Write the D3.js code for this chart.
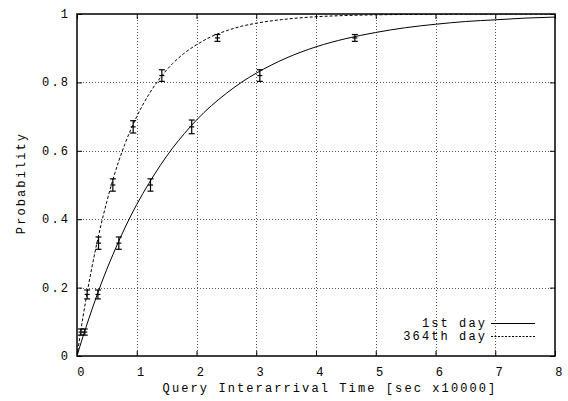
<!DOCTYPE html>
<html>
<head>
<meta charset="utf-8">
<script src="https://cdn.jsdelivr.net/npm/d3@7"></script>
<style>
  html, body { margin: 0; padding: 0; background: #fff; }
  svg text { font-family: "Liberation Mono", "DejaVu Sans Mono", monospace; font-size: 12px; fill: #000; letter-spacing: 2.1px; }
</style>
</head>
<body>
<svg id="chart" width="568" height="401"></svg>
<script>
// Measured interarrival-time CDF points (x in units of 10000 sec)
const probLevels = [0.07, 0.18, 0.33, 0.50, 0.67, 0.82, 0.93];
const day1X = [0.13, 0.35, 0.70, 1.23, 1.92, 3.06, 4.65];
const day1Err = [0.009, 0.013, 0.018, 0.018, 0.020, 0.017, 0.010];
const day364X = [0.067, 0.17, 0.36, 0.60, 0.94, 1.42, 2.35];
const day364Err = [0.009, 0.013, 0.018, 0.018, 0.018, 0.017, 0.010];

// Fitted curves sampled along x
const curveX = [0, 0.1, 0.2, 0.3, 0.4, 0.5, 0.6, 0.8, 1.0, 1.2, 1.4, 1.6, 1.8, 2.0, 2.25, 2.5, 2.75, 3.0, 3.5, 4.0, 4.5, 5.0, 5.5, 6.0, 6.5, 7.0, 7.5, 8.0];
const day1Fit = [0, 0.057, 0.110, 0.161, 0.209, 0.254, 0.296, 0.374, 0.443, 0.504, 0.559, 0.608, 0.651, 0.690, 0.732, 0.768, 0.800, 0.827, 0.871, 0.904, 0.928, 0.946, 0.960, 0.970, 0.978, 0.983, 0.988, 0.991];
const day364Fit = [0, 0.114, 0.214, 0.303, 0.382, 0.452, 0.515, 0.619, 0.700, 0.764, 0.815, 0.855, 0.886, 0.910, 0.934, 0.951, 0.964, 0.973, 0.985, 0.992, 0.9956, 0.9976, 0.9987, 0.9993, 0.9996, 0.9998, 0.9999, 1.0];

const xTicks = [0, 1, 2, 3, 4, 5, 6, 7, 8];
const yTicks = [0, 0.2, 0.4, 0.6, 0.8, 1];
const yTickLabels = ["0", "0.2", "0.4", "0.6", "0.8", "1"];
const seriesNames = ["1st day", "364th day"];

const svg = d3.select("#chart");
const plotL = 77, plotR = 555, plotT = 14, plotB = 356;
const x = d3.scaleLinear().domain([0, 8]).range([plotL, plotR]);
const y = d3.scaleLinear().domain([0, 1]).range([plotB, plotT]);

// grid
const grid = svg.append("g").attr("stroke", "#555").attr("stroke-width", 1).attr("stroke-dasharray", "1,2");
grid.selectAll("line.gx").data(xTicks.slice(1, -1)).join("line")
  .attr("x1", d => Math.round(x(d)) + 0.5).attr("x2", d => Math.round(x(d)) + 0.5)
  .attr("y1", plotT).attr("y2", plotB);
grid.selectAll("line.gy").data(yTicks.slice(1, -1)).join("line")
  .attr("y1", d => Math.round(y(d)) + 0.5).attr("y2", d => Math.round(y(d)) + 0.5)
  .attr("x1", plotL).attr("x2", plotR);

// axes with inward ticks
const axB = svg.append("g").attr("transform", `translate(0,${plotB})`)
  .call(d3.axisBottom(x).tickValues(xTicks).tickSize(-5).tickFormat(""));
const axT = svg.append("g").attr("transform", `translate(0,${plotT})`)
  .call(d3.axisTop(x).tickValues(xTicks).tickSize(-5).tickFormat(""));
const axL = svg.append("g").attr("transform", `translate(${plotL},0)`)
  .call(d3.axisLeft(y).tickValues(yTicks).tickSize(-5).tickFormat(""));
const axR = svg.append("g").attr("transform", `translate(${plotR},0)`)
  .call(d3.axisRight(y).tickValues(yTicks).tickSize(-5).tickFormat(""));
[axB, axT, axL, axR].forEach(g => {
  g.select(".domain").remove();
  g.selectAll("line").attr("stroke", "#000").attr("stroke-width", 1);
});

// tick labels
svg.append("g").selectAll("text").data(xTicks).join("text")
  .attr("x", d => x(d) + 5).attr("y", 376).attr("text-anchor", "middle").text(d => d);
svg.append("g").selectAll("text").data(yTicks).join("text")
  .attr("x", plotL - 7).attr("y", d => y(d) + 4).attr("text-anchor", "end")
  .text((d, i) => yTickLabels[i]);

// axis titles
svg.append("text").attr("x", 330).attr("y", 392).attr("text-anchor", "middle")
  .text("Query Interarrival Time [sec x10000]");
svg.append("text").attr("transform", "translate(25,183) rotate(-90)").attr("text-anchor", "middle")
  .text("Probability");

// clip region for curves
svg.append("clipPath").attr("id", "plotClip").append("rect")
  .attr("x", plotL).attr("y", plotT).attr("width", plotR - plotL).attr("height", plotB - plotT);

const line = d3.line().x(d => x(d[0])).y(d => y(d[1])).curve(d3.curveMonotoneX);
const plot = svg.append("g").attr("clip-path", "url(#plotClip)");
plot.append("path").datum(curveX.map((v, i) => [v, day1Fit[i]]))
  .attr("d", line).attr("fill", "none").attr("stroke", "#000").attr("stroke-width", 1);
plot.append("path").datum(curveX.map((v, i) => [v, day364Fit[i]]))
  .attr("d", line).attr("fill", "none").attr("stroke", "#000").attr("stroke-width", 1)
  .attr("stroke-dasharray", "3,2");

// error bars
function errorBars(xs, errs) {
  const g = svg.append("g").attr("stroke", "#000").attr("stroke-width", 1.2);
  const pts = xs.map((v, i) => ({ x: v, y: probLevels[i], e: errs[i] }));
  pts.forEach(p => {
    const cx = x(p.x), cy = y(p.y), y1 = y(p.y + p.e), y2 = y(p.y - p.e);
    g.append("line").attr("x1", cx).attr("x2", cx).attr("y1", y1).attr("y2", y2);
    g.append("line").attr("x1", cx - 3).attr("x2", cx + 3).attr("y1", y1).attr("y2", y1);
    g.append("line").attr("x1", cx - 3).attr("x2", cx + 3).attr("y1", y2).attr("y2", y2);
    g.append("line").attr("x1", cx - 2.5).attr("x2", cx + 2.5).attr("y1", cy).attr("y2", cy);
  });
}
errorBars(day1X, day1Err);
errorBars(day364X, day364Err);

// legend
const legend = svg.append("g");
legend.append("text").attr("x", 487).attr("y", 327).attr("text-anchor", "end").text(seriesNames[0]);
legend.append("text").attr("x", 487).attr("y", 340).attr("text-anchor", "end").text(seriesNames[1]);
legend.append("line").attr("x1", 491).attr("x2", 535).attr("y1", 323.5).attr("y2", 323.5)
  .attr("stroke", "#000").attr("stroke-width", 1);
legend.append("line").attr("x1", 491).attr("x2", 535).attr("y1", 336.5).attr("y2", 336.5)
  .attr("stroke", "#000").attr("stroke-width", 1).attr("stroke-dasharray", "2,1.5");

// frame
svg.append("rect").attr("x", plotL).attr("y", plotT).attr("width", plotR - plotL).attr("height", plotB - plotT)
  .attr("fill", "none").attr("stroke", "#000").attr("stroke-width", 1.5);
</script>
</body>
</html>
